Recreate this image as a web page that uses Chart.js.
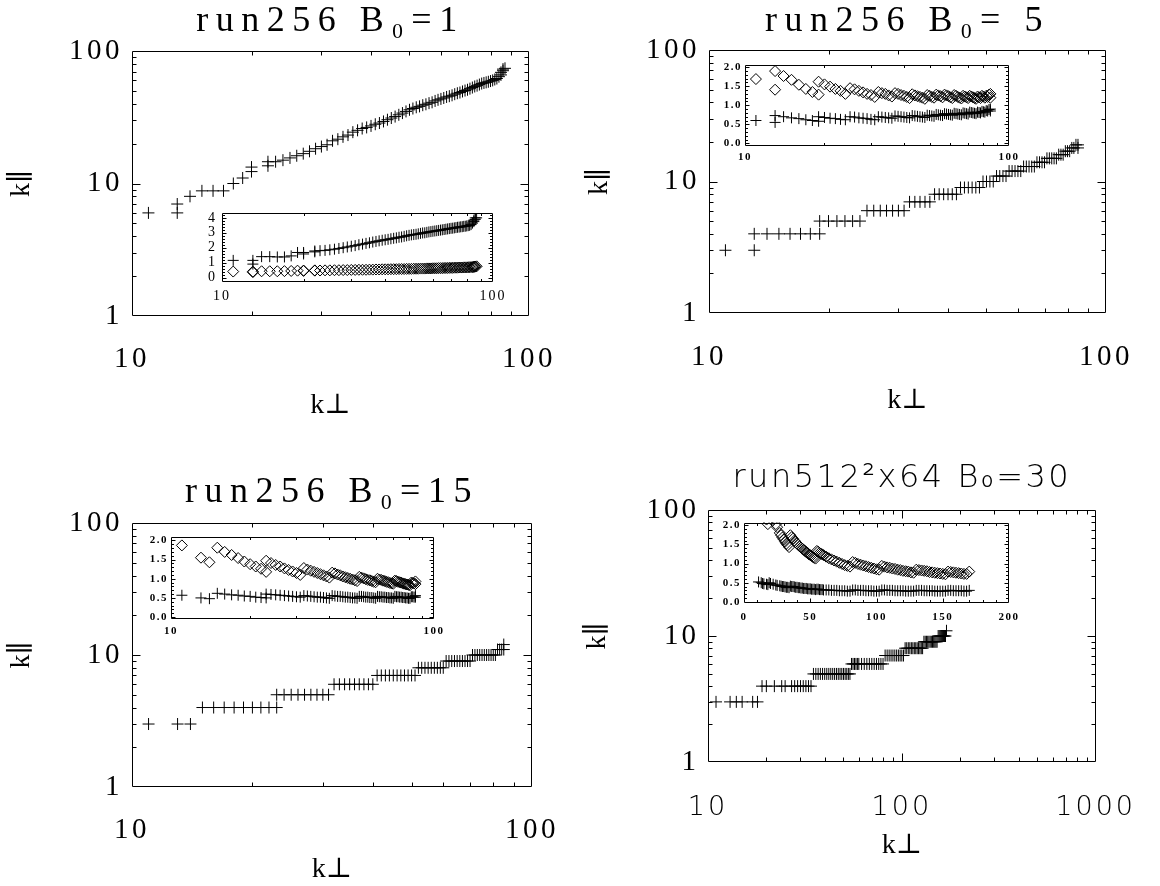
<!DOCTYPE html>
<html><head><meta charset="utf-8">
<script src="https://cdn.jsdelivr.net/npm/chart.js@4.4.1/dist/chart.umd.min.js"></script>
<style>
html,body{margin:0;padding:0;background:#fff;}
#wrap{position:relative;width:1160px;height:886px;overflow:hidden;background:#fff;}
canvas{position:absolute;}
</style></head><body><div id="wrap"></div>
<script>
// ================= DATA =================
// Panel 1: run256 B0=1
const kperp1 = [11,13,13,14,15,16,17,18,19,20,20,22,22,23,24,25,26,27,28,29,30,31,32,33,34,35,36,37,38,39,40,41,42,43,44,45,46,47,48,49,50,51,52,53,54,55,56,57,58,59,60,61,62,63,64,65,66,67,68,69,70,71,72,73,74,75,76,77,78,79,80,81,82,83,84,85,85,86,86,87];
const kpar1 = [6,6,7,8,8.8,8.8,8.8,10,11,12.3,13.3,13.6,14.6,14.6,15,15.6,16.2,16.8,17.5,18.3,19,19.6,21,21.6,22.5,23.2,24.4,25.2,26,26.5,27.2,28,28.6,29.4,30.3,31.2,32,33,34,35,36,36.8,37.6,38.2,39,39.6,40.4,41,42,42.8,43.5,44.2,45,45.6,46.3,47.2,48,48.6,49.5,50.3,51,52,53,54,54.8,55.8,56.8,57.4,58,58.6,59.3,60,61,62,64,66,69,71,73,74];
const plus1 = [1.15,1.15,0.9,1.4,1.4,1.38,1.38,1.45,1.68,1.68,1.58,1.78,1.72,1.8,1.82,1.86,1.9,1.95,2.0,2.05,2.1,2.14,2.2,2.24,2.29,2.33,2.38,2.42,2.46,2.5,2.53,2.56,2.6,2.63,2.66,2.7,2.72,2.76,2.8,2.83,2.86,2.88,2.9,2.93,2.96,2.99,3.0,3.03,3.06,3.08,3.1,3.12,3.14,3.16,3.18,3.2,3.22,3.24,3.26,3.28,3.3,3.31,3.33,3.35,3.37,3.38,3.4,3.41,3.43,3.44,3.46,3.48,3.5,3.55,3.65,3.75,3.85,3.9,4.0,4.0];
const diam1 = [0.4,0.4,0.36,0.42,0.42,0.42,0.43,0.44,0.46,0.47,0.44,0.48,0.46,0.47,0.48,0.48,0.49,0.49,0.5,0.5,0.51,0.51,0.52,0.52,0.52,0.53,0.53,0.54,0.54,0.55,0.55,0.55,0.56,0.56,0.56,0.57,0.57,0.57,0.58,0.58,0.58,0.59,0.59,0.59,0.6,0.6,0.6,0.61,0.61,0.61,0.62,0.62,0.62,0.63,0.63,0.63,0.64,0.64,0.64,0.65,0.65,0.65,0.66,0.66,0.66,0.67,0.67,0.67,0.68,0.68,0.68,0.69,0.69,0.7,0.7,0.71,0.72,0.73,0.74,0.75];

// Panel 2: run256 B0=5
const kperp2 = [11,13,13,14,15,16,17,18,19,19,20,21,22,23,24,25,26,27,28,29,30,31,32,33,34,35,36,37,38,39,40,41,42,43,44,45,46,47,48,49,50,51,52,53,54,55,56,57,58,59,60,61,62,63,64,65,66,67,68,69,70,71,72,73,74,75,76,77,78,79,80,81,82,83,84,85,85];
const kpar2 = [3,3,4,4,4,4,4,4,4,5,5,5,5,5,5,6,6,6,6,6,6,6,7,7,7,7,7,8,8,8,8,8,8,9,9,9,9,9,9,10,10,10,10,11,11,11,11,12,12,12,12,12,13,13,13,13,13,14,14,14,14,15,15,15,15,15,16,16,16,17,17,17,18,18,19,19,18];
const plus2 = [0.6,0.55,0.73,0.7,0.67,0.65,0.62,0.6,0.58,0.7,0.68,0.66,0.65,0.63,0.62,0.7,0.69,0.67,0.66,0.65,0.63,0.62,0.7,0.69,0.68,0.67,0.66,0.72,0.71,0.7,0.69,0.68,0.67,0.73,0.72,0.71,0.7,0.69,0.68,0.74,0.73,0.72,0.71,0.76,0.75,0.74,0.73,0.78,0.77,0.76,0.75,0.74,0.79,0.78,0.77,0.76,0.75,0.8,0.79,0.78,0.77,0.82,0.81,0.8,0.79,0.78,0.82,0.81,0.8,0.84,0.83,0.82,0.86,0.85,0.89,0.9,0.85];
const diam2 = [1.69,1.41,1.9,1.77,1.67,1.54,1.43,1.35,1.28,1.62,1.55,1.49,1.43,1.38,1.3,1.45,1.42,1.38,1.34,1.3,1.27,1.22,1.35,1.32,1.3,1.26,1.23,1.32,1.3,1.27,1.25,1.22,1.19,1.29,1.26,1.24,1.22,1.2,1.17,1.27,1.25,1.22,1.2,1.28,1.26,1.24,1.21,1.28,1.26,1.24,1.21,1.19,1.27,1.25,1.22,1.2,1.18,1.25,1.23,1.21,1.19,1.25,1.23,1.21,1.19,1.17,1.23,1.21,1.19,1.25,1.23,1.2,1.25,1.22,1.28,1.3,1.2];

// Panel 3: run256 B0=15
const kperp3 = [11,13,14,15,16,17,18,19,20,21,22,23,23,24,25,26,27,28,29,30,31,32,33,34,35,36,37,38,39,40,41,42,43,44,45,46,47,48,49,50,51,52,53,54,55,56,57,58,59,60,61,62,63,64,65,66,67,68,69,70,71,72,73,74,75,76,77,78,79,80,81,82,83,84,85,85];
const kpar3 = [3,3,3,4,4,4,4,4,4,4,4,4,5,5,5,5,5,5,5,5,5,6,6,6,6,6,6,6,6,6,7,7,7,7,7,7,7,7,7,7,7,8,8,8,8,8,8,8,8,8,9,9,9,9,9,9,9,9,9,9,10,10,10,10,10,10,10,10,10,10,10,11,11,11,12,11];
const plus3 = [0.57,0.5,0.48,0.62,0.6,0.58,0.57,0.55,0.54,0.52,0.51,0.5,0.6,0.59,0.58,0.57,0.56,0.55,0.54,0.53,0.52,0.56,0.55,0.54,0.53,0.52,0.52,0.51,0.5,0.49,0.56,0.55,0.54,0.54,0.53,0.52,0.52,0.51,0.5,0.5,0.49,0.54,0.54,0.53,0.52,0.52,0.51,0.51,0.5,0.49,0.54,0.53,0.53,0.52,0.52,0.51,0.51,0.5,0.5,0.49,0.54,0.53,0.53,0.52,0.52,0.51,0.51,0.5,0.5,0.49,0.49,0.53,0.53,0.52,0.56,0.52];
const diam3 = [1.87,1.55,1.43,1.81,1.7,1.62,1.54,1.45,1.38,1.32,1.26,1.18,1.47,1.41,1.36,1.32,1.27,1.23,1.19,1.15,1.1,1.28,1.24,1.21,1.18,1.15,1.12,1.09,1.06,1.03,1.16,1.14,1.11,1.09,1.06,1.04,1.02,1.0,0.98,0.96,0.94,1.05,1.03,1.01,0.99,0.97,0.96,0.94,0.92,0.91,1.0,0.98,0.97,0.95,0.94,0.92,0.91,0.89,0.88,0.87,0.95,0.94,0.92,0.91,0.9,0.88,0.87,0.86,0.85,0.84,0.83,0.9,0.89,0.88,0.93,0.86];

// Panel 4: run512^2x64 B0=30
const kperp4 = [11,13,14,15,17,18,19,20,22,24,25,27,28,29,30,31,32,33,34,35,36,37,38,39,40,41,42,43,44,45,46,47,48,49,50,51,52,53,54,55,56,57,58,59,60,62,64,66,68,70,72,74,76,78,80,82,84,86,88,90,92,94,96,98,100,102,104,106,108,110,112,114,116,118,120,122,124,126,128,130,132,134,136,138,140,142,144,146,148,150,152,154,156,158,160,162,164,166,168,170];
const kpar4 = [3,3,3,3,3,3,4,4,4,4,4,4,4,4,4,4,4,4,4,5,5,5,5,5,5,5,5,5,5,5,5,5,5,5,5,5,5,5,5,6,6,6,6,6,6,6,6,6,6,6,6,6,6,6,6,7,7,7,7,7,7,7,7,7,7,7,8,8,8,8,8,8,8,8,8,8,8,8,8,9,9,9,9,9,9,9,9,9,9,9,9,10,10,10,10,10,10,10,10,11];
const plus4 = [0.52,0.5,0.48,0.47,0.46,0.45,0.5,0.48,0.46,0.44,0.43,0.42,0.41,0.4,0.4,0.39,0.38,0.38,0.37,0.41,0.4,0.4,0.39,0.38,0.38,0.37,0.37,0.36,0.36,0.35,0.35,0.35,0.34,0.34,0.34,0.33,0.33,0.33,0.32,0.33,0.33,0.32,0.32,0.32,0.31,0.31,0.31,0.3,0.3,0.3,0.29,0.29,0.29,0.28,0.28,0.31,0.31,0.3,0.3,0.3,0.29,0.29,0.29,0.28,0.28,0.28,0.31,0.31,0.3,0.3,0.3,0.29,0.29,0.29,0.29,0.28,0.28,0.28,0.28,0.3,0.3,0.3,0.29,0.29,0.29,0.29,0.28,0.28,0.28,0.28,0.28,0.3,0.3,0.29,0.29,0.29,0.29,0.28,0.28,0.3];
const diam4 = [3.3,2.8,2.6,2.44,2.15,2.03,2.57,2.44,2.2,2.03,1.95,1.8,1.74,1.68,1.63,1.57,1.52,1.48,1.43,1.74,1.69,1.65,1.6,1.56,1.52,1.49,1.45,1.42,1.39,1.36,1.33,1.3,1.27,1.24,1.22,1.2,1.17,1.15,1.13,1.33,1.31,1.28,1.26,1.24,1.22,1.18,1.14,1.11,1.08,1.05,1.02,0.99,0.96,0.94,0.92,1.04,1.02,0.99,0.97,0.95,0.93,0.91,0.89,0.87,0.85,0.84,0.94,0.92,0.9,0.89,0.87,0.86,0.84,0.83,0.81,0.8,0.79,0.77,0.76,0.84,0.83,0.82,0.81,0.8,0.78,0.77,0.76,0.75,0.74,0.73,0.72,0.79,0.78,0.77,0.76,0.75,0.74,0.73,0.73,0.79];

// Titles and tick labels
const titles = ['run256 B\u2080=1', 'run256 B\u2080= 5', 'run256 B\u2080=15', 'run512\u00b2x64 B\u2080=30'];
const mainYTicks = [1, 10, 100];
const mainXTicks = [10, 100];
const mainXTicks4 = [10, 100, 1000];
const inset1YTicks = [0, 1, 2, 3, 4];
const insetYTicks = [0, 0.5, 1, 1.5, 2];
const insetXTicks = [10, 100];
const inset4XTicks = [0, 50, 100, 150, 200];
const xTitle = 'k\u22a5';
const yTitle = 'k\u2225';

// ================= STYLE / HELPERS =================
const SERIF = '"Liberation Serif", "DejaVu Serif", serif';
const SANS = '"DejaVu Sans", "Liberation Sans", sans-serif';
const logMinor1_100 = [2,3,4,5,6,7,8,9,20,30,40,50,60,70,80,90];
const logMinor10_100 = [20,30,40,50,60,70,80,90];
const logMinor10_1000 = [20,30,40,50,60,70,80,90,200,300,400,500,600,700,800,900];
function steps(a, b, d) { const r = []; for (let v = a; v <= b + 1e-9; v += d) r.push(+v.toFixed(4)); return r; }

function pts(xs, ys) { return xs.map((x, i) => ({x: x, y: ys[i]})); }

function addCanvas(left, top, w, h) {
  const c = document.createElement('canvas');
  c.width = w; c.height = h;
  c.style.left = left + 'px'; c.style.top = top + 'px';
  c.style.width = w + 'px'; c.style.height = h + 'px';
  document.getElementById('wrap').appendChild(c);
  return c;
}

// IDL-like frame: box with inward ticks on all four sides, and per-text letter spacing
function framePlugin(o) {
  return {
    id: 'idlFrame',
    beforeInit(chart) {
      const ctx = chart.ctx;
      const orig = ctx.fillText;
      ctx.fillText = function (text, x, y, mw) {
        const prev = this.letterSpacing;
        const sp = (o.spacing && o.spacing[text] !== undefined) ? o.spacing[text] : o.tickSpacing;
        this.letterSpacing = sp + 'px';
        if (mw === undefined) orig.call(this, text, x, y); else orig.call(this, text, x, y, mw);
        this.letterSpacing = prev;
      };
    },
    afterDraw(chart) {
      const ctx = chart.ctx, a = chart.chartArea, xs = chart.scales.x, ys = chart.scales.y;
      ctx.save();
      ctx.strokeStyle = '#000';
      ctx.lineWidth = 1;
      const L = Math.round(a.left) + 0.5, R = Math.round(a.right) - 0.5;
      const T = Math.round(a.top) + 0.5, B = Math.round(a.bottom) - 0.5;
      ctx.beginPath();
      ctx.rect(L, T, R - L, B - T);
      const xt = (vals, len) => vals.forEach(v => {
        const p = Math.round(xs.getPixelForValue(v)) + 0.5;
        if (p <= L + 0.6 || p >= R - 0.6) return;
        ctx.moveTo(p, B); ctx.lineTo(p, B - len);
        ctx.moveTo(p, T); ctx.lineTo(p, T + len);
      });
      const yt = (vals, len) => vals.forEach(v => {
        const p = Math.round(ys.getPixelForValue(v)) + 0.5;
        if (p <= T + 0.6 || p >= B - 0.6) return;
        ctx.moveTo(L, p); ctx.lineTo(L + len, p);
        ctx.moveTo(R, p); ctx.lineTo(R - len, p);
      });
      xt(o.xMajor, o.major); xt(o.xMinor, o.minor);
      yt(o.yMajor, o.major); yt(o.yMinor, o.minor);
      ctx.stroke();
      ctx.restore();
    }
  };
}

function scaleOpts(s) {
  return {
    type: s.type, min: s.min, max: s.max, position: s.position,
    afterBuildTicks: (sc) => { sc.ticks = s.ticks.map(v => ({value: v})); },
    afterFit: (sc) => { if (s.position === 'left') sc.width = s.size; else sc.height = s.size; },
    grid: {display: false, drawTicks: false, z: 1},
    border: {display: false},
    ticks: {z: 1, autoSkip: false, maxRotation: 0, minRotation: 0, padding: s.pad, color: '#000',
            font: s.font, callback: s.fmt || ((v) => String(v))},
    title: s.title ? {display: true, text: s.title, color: '#000', font: {family: SERIF, size: 28, weight: 'normal'},
            padding: {top: s.titlePad || 0, bottom: 0}} : {display: false}
  };
}

function mainChart(p) {
  const c = addCanvas(p.left, p.top, p.W, p.H);
  const A = p.area;
  const tf = p.titleFont;
  const spacing = {}; spacing[p.title] = p.titleSpacing; spacing[xTitle] = 0; spacing[yTitle] = 0;
  new Chart(c, {
    type: 'scatter',
    data: {datasets: [{
      data: pts(p.xs, p.ys), pointStyle: 'cross', pointRadius: 6, pointHoverRadius: 6,
      pointBorderWidth: 1, pointBorderColor: '#000', pointBackgroundColor: 'rgba(0,0,0,0)', showLine: false
    }]},
    options: {
      responsive: false, animation: false, events: [],
      layout: {padding: {left: 0, top: 0, right: p.W - A.R, bottom: p.H - A.B - p.xH}},
      plugins: {
        legend: {display: false}, tooltip: {enabled: false},
        title: {display: true, text: p.title, color: '#000', font: tf, fullSize: false,
                padding: {top: p.titleTop, bottom: A.T - p.titleTop - tf.size * 1.2}}
      },
      scales: {
        x: scaleOpts({type: 'logarithmic', min: p.xMin, max: p.xMax, position: 'bottom', ticks: p.xTicks,
                      size: p.xH, pad: p.xPad, font: p.xFont || {family: SERIF, size: 29}, title: xTitle}),
        y: scaleOpts({type: 'logarithmic', min: 1, max: 100, position: 'left', ticks: mainYTicks,
                      size: A.L, pad: 9, font: {family: SERIF, size: 29}, title: yTitle, titlePad: p.yTitlePad})
      }
    },
    plugins: [framePlugin({spacing: spacing, tickSpacing: p.tickSpacing || 3.5, major: 8, minor: 4,
      xMajor: p.xTicks, xMinor: p.xMinor, yMajor: mainYTicks, yMinor: logMinor1_100})]
  });
}

function insetChart(p) {
  const c = addCanvas(p.left, p.top, p.W, p.H);
  const A = p.area;
  new Chart(c, {
    type: 'scatter',
    data: {datasets: [
      {data: pts(p.xs, p.plus), pointStyle: 'cross', pointRadius: 5.5, pointHoverRadius: 5.5,
       pointBorderWidth: 1, pointBorderColor: '#000', pointBackgroundColor: 'rgba(0,0,0,0)', showLine: false},
      {data: pts(p.xs, p.diam), pointStyle: 'rectRot', pointRadius: 5.5, pointHoverRadius: 5.5,
       pointBorderWidth: 1, pointBorderColor: '#000', pointBackgroundColor: 'rgba(0,0,0,0)', showLine: false}
    ]},
    options: {
      responsive: false, animation: false, events: [],
      layout: {padding: {left: 0, top: A.T, right: p.W - A.R, bottom: p.H - A.B - p.xH}},
      plugins: {legend: {display: false}, tooltip: {enabled: false}, title: {display: false}},
      scales: {
        x: scaleOpts({type: p.xType, min: p.xMin, max: p.xMax, position: 'bottom', ticks: p.xTicks,
                      size: p.xH, pad: p.xPad, font: p.font}),
        y: scaleOpts({type: 'linear', min: p.yMin, max: p.yMax, position: 'left', ticks: p.yTicks,
                      size: A.L, pad: p.yPad, font: p.font, fmt: p.yFmt})
      }
    },
    plugins: [framePlugin({spacing: {}, tickSpacing: p.spacing, major: 4, minor: 2.5,
      xMajor: p.xTicks, xMinor: p.xMinor, yMajor: p.yTicks, yMinor: p.yMinor})]
  });
}

// ================= PANELS =================
const serifTitle = {family: SERIF, size: 36, weight: 'normal'};
mainChart({left: 0, top: 0, W: 580, H: 443, area: {L: 132, R: 529, T: 51, B: 316},
  xs: kperp1, ys: kpar1, title: titles[0], titleFont: serifTitle, titleTop: 0, titleSpacing: 7.5,
  xMin: 10, xMax: 100, xTicks: mainXTicks, xMinor: logMinor10_100, xH: 106, xPad: 26, yTitlePad: 5});
mainChart({left: 580, top: 0, W: 580, H: 443, area: {L: 129, R: 526, T: 50, B: 313},
  xs: kperp2, ys: kpar2, title: titles[1], titleFont: serifTitle, titleTop: 0, titleSpacing: 7.5,
  xMin: 10, xMax: 100, xTicks: mainXTicks, xMinor: logMinor10_100, xH: 104, xPad: 27, yTitlePad: 3});
mainChart({left: 0, top: 443, W: 580, H: 443, area: {L: 132, R: 532, T: 80, B: 344},
  xs: kperp3, ys: kpar3, title: titles[2], titleFont: serifTitle, titleTop: 28, titleSpacing: 7.5,
  xMin: 10, xMax: 100, xTicks: mainXTicks, xMinor: logMinor10_100, xH: 99, xPad: 26, yTitlePad: 5});
mainChart({left: 580, top: 443, W: 580, H: 443, area: {L: 128, R: 525, T: 67, B: 319},
  xs: kperp4, ys: kpar4, title: titles[3], titleFont: {family: SANS, size: 32, weight: '200'}, titleTop: 16, titleSpacing: 2.5,
  xMin: 10, xMax: 1000, xTicks: mainXTicks4, xMinor: logMinor10_1000, xH: 100, xPad: 30,
  xFont: {family: SANS, size: 27, weight: '200'}, tickSpacing: 3, yTitlePad: 1});

const smallFont = {family: SERIF, size: 11, weight: 'bold'};
const fmt1 = (v) => v.toFixed(1);
insetChart({left: 180, top: 200, W: 340, H: 115, area: {L: 42, R: 313, T: 10, B: 82},
  xs: kperp1, plus: plus1, diam: diam1, xType: 'logarithmic', xMin: 10, xMax: 100, xTicks: insetXTicks,
  xMinor: logMinor10_100, xH: 30, xPad: 6, yMin: -0.3, yMax: 4.3, yTicks: inset1YTicks, yMinor: steps(-0.2, 4.2, 0.2),
  yPad: 5, font: {family: SERIF, size: 14}, spacing: 2});
insetChart({left: 700, top: 55, W: 330, H: 115, area: {L: 45, R: 309, T: 7, B: 91},
  xs: kperp2, plus: plus2, diam: diam2, xType: 'logarithmic', xMin: 10, xMax: 100, xTicks: insetXTicks,
  xMinor: logMinor10_100, xH: 24, xPad: 5, yMin: -0.07, yMax: 2.07, yTicks: insetYTicks, yMinor: steps(0, 2, 0.1),
  yPad: 3, font: smallFont, spacing: 1.5, yFmt: fmt1});
insetChart({left: 125, top: 527, W: 330, H: 115, area: {L: 46, R: 309, T: 7, B: 92},
  xs: kperp3, plus: plus3, diam: diam3, xType: 'logarithmic', xMin: 10, xMax: 100, xTicks: insetXTicks,
  xMinor: logMinor10_100, xH: 23, xPad: 6, yMin: -0.05, yMax: 2.1, yTicks: insetYTicks, yMinor: steps(0, 2, 0.1),
  yPad: 3, font: smallFont, spacing: 1.5, yFmt: fmt1});
insetChart({left: 700, top: 513, W: 330, H: 115, area: {L: 44, R: 309, T: 7, B: 90},
  xs: kperp4, plus: plus4, diam: diam4, xType: 'linear', xMin: 0, xMax: 200, xTicks: inset4XTicks,
  xMinor: steps(10, 190, 10), xH: 25, xPad: 8, yMin: -0.03, yMax: 2.07, yTicks: insetYTicks, yMinor: steps(0, 2, 0.1),
  yPad: 3, font: smallFont, spacing: 1.5, yFmt: fmt1});
</script></body></html>
